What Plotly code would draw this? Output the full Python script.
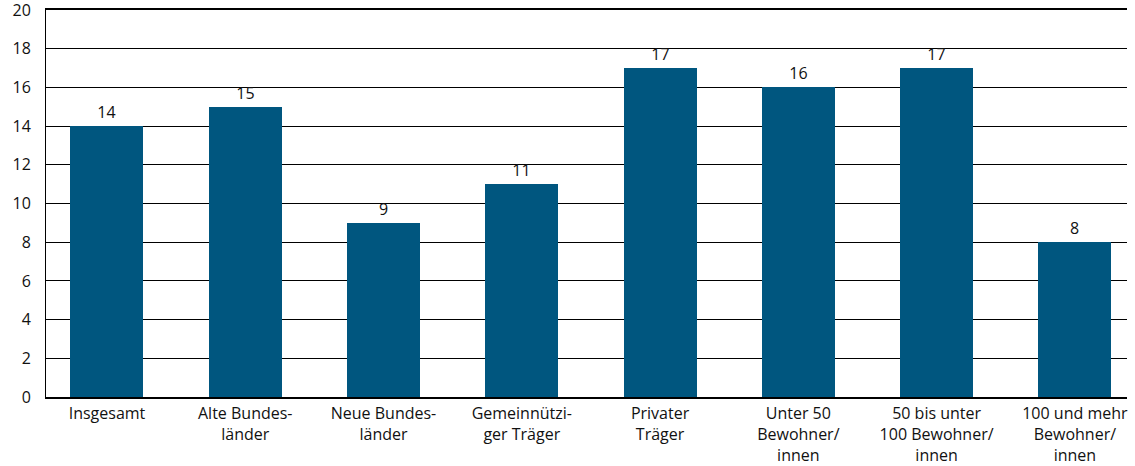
import plotly.graph_objects as go

categories = [
    "Insgesamt",
    "Alte Bundes-<br>länder",
    "Neue Bundes-<br>länder",
    "Gemeinnützi-<br>ger Träger",
    "Privater<br>Träger",
    "Unter 50<br>Bewohner/<br>innen",
    "50 bis unter<br>100 Bewohner/<br>innen",
    "100 und mehr<br>Bewohner/<br>innen",
]
values = [14, 15, 9, 11, 17, 16, 17, 8]
y_ticks = [0, 2, 4, 6, 8, 10, 12, 14, 16, 18, 20]

positions = list(range(len(categories)))
FONT = "Open Sans, Noto Sans, sans-serif"
TEXT = "#111111"

fig = go.Figure(
    go.Bar(
        x=positions,
        y=values,
        width=0.528,
        marker=dict(color="#00567f", line=dict(width=0)),
        text=[str(v) for v in values],
        textposition="outside",
        textfont=dict(family=FONT, size=16, color=TEXT),
        cliponaxis=False,
    )
)

fig.update_layout(
    width=1135,
    height=466,
    margin=dict(l=46, r=8, t=10, b=69, autoexpand=False),
    paper_bgcolor="white",
    plot_bgcolor="white",
    showlegend=False,
    bargap=0,
    font=dict(family=FONT, size=16, color=TEXT),
)

# x axis line is mirrored to the top, where it doubles as the 20 gridline
fig.update_xaxes(
    range=[-0.441, 7.377],
    tickvals=positions,
    ticktext=categories,
    ticks="outside",
    ticklen=1,
    tickcolor="rgba(0,0,0,0)",
    showgrid=False,
    showline=True,
    mirror=True,
    linecolor="#000000",
    linewidth=1.5,
    tickfont=dict(family=FONT, size=16, color=TEXT),
    ticklabeloverflow="allow",
    automargin=False,
    zeroline=False,
)

fig.update_yaxes(
    range=[0, 20],
    tickvals=y_ticks,
    ticks="outside",
    ticklen=11,
    tickcolor="rgba(0,0,0,0)",
    showgrid=True,
    gridcolor="#000000",
    gridwidth=1,
    showline=True,
    linecolor="#000000",
    linewidth=1,
    zeroline=False,
    tickfont=dict(family=FONT, size=16, color=TEXT),
    ticklabeloverflow="allow",
    automargin=False,
)

fig.write_html("out.html")
